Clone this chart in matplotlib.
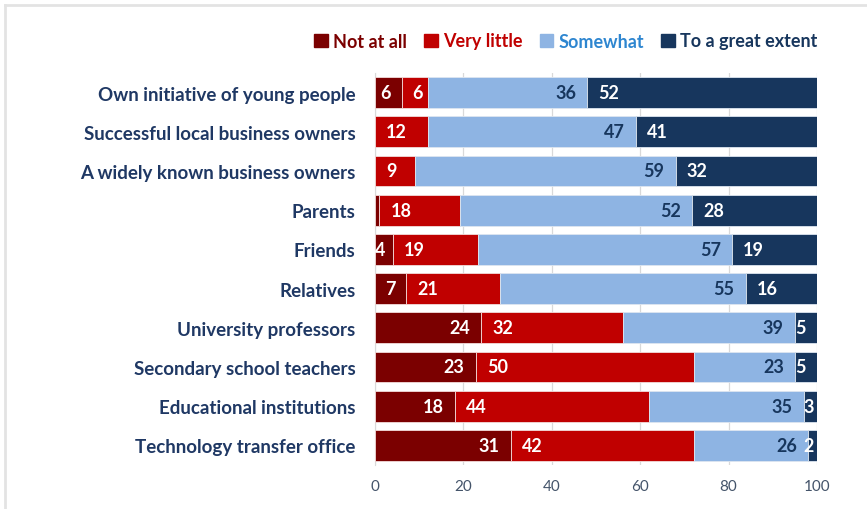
import matplotlib
matplotlib.use("Agg")
import matplotlib.pyplot as plt
from matplotlib.lines import Line2D
from matplotlib.patches import Rectangle

categories = [
    "Own initiative of young people",
    "Successful local business owners",
    "A widely known business owners",
    "Parents",
    "Friends",
    "Relatives",
    "University professors",
    "Secondary school teachers",
    "Educational institutions",
    "Technology transfer office",
]
series_names = ["Not at all", "Very little", "Somewhat", "To a great extent"]
not_at_all = [6, 0, 0, 1, 4, 7, 24, 23, 18, 31]
very_little = [6, 12, 9, 18, 19, 21, 32, 50, 44, 42]
somewhat = [36, 47, 59, 52, 57, 55, 39, 23, 35, 26]
great_extent = [52, 41, 32, 28, 19, 16, 5, 5, 3, 2]
# values shown without a data label (tiny slivers)
hidden_labels = {(0, 3)}
x_ticks = [0, 20, 40, 60, 80, 100]

bar_colors = ["#7B0000", "#C00000", "#8EB4E3", "#17365D"]
legend_text_colors = ["#7B0000", "#C00000", "#2E86D0", "#17365D"]
label_colors = ["white", "white", "#17365D", "white"]
navy = "#1F3864"
tick_color = "#44546A"

FONT = ["Lato", "DejaVu Sans"]
plt.rcParams["font.family"] = FONT

fig = plt.figure(figsize=(8.67, 5.10), dpi=100)
ax = fig.add_axes([375 / 867, 1 - 466 / 510, 442 / 867, (466 - 74) / 510])

series = [not_at_all, very_little, somewhat, great_extent]
n = len(categories)
ypos = list(range(n))
# 100% stacked: each row is scaled to its own total
totals = [sum(col) for col in zip(*series)]
left = [0.0] * n
PAD = 8  # label offset from the segment edge, in points
label_kw = dict(fontsize=13, fontweight="bold", va="center", zorder=4)

for s, vals in enumerate(series):
    widths = [v / t * 100 for v, t in zip(vals, totals)]
    ax.barh(ypos, widths, left=left, height=0.79, color=bar_colors[s],
            edgecolor="#F2DCDB" if s < 2 else "#DDE6F0", linewidth=0.6, zorder=3)
    for i, v in enumerate(vals):
        if v <= 0 or (s, i) in hidden_labels:
            continue
        start, end = left[i], left[i] + widths[i]
        c = label_colors[s]
        if s == 0 and widths[i] < 5:
            ax.annotate(str(v), (0, i), ha="left", color=c, **label_kw)
        elif s in (0, 2):
            # label at the inside end of the segment
            ax.annotate(str(v), (end, i), xytext=(-PAD, 0), textcoords="offset points",
                        ha="right", color=c, **label_kw)
        elif s == 3 and widths[i] < 8:
            ax.annotate(str(v), (min(start, 97.0), i), ha="left", color=c, **label_kw)
        else:
            # label at the inside base of the segment
            ax.annotate(str(v), (start, i), xytext=(PAD, 0), textcoords="offset points",
                        ha="left", color=c, **label_kw)
    left = [a + b for a, b in zip(left, widths)]

ax.set_xlim(0, 100)
ax.set_ylim(n - 0.5, -0.5)
ax.set_xticks(x_ticks)
ax.set_xticklabels([str(t) for t in x_ticks], color=tick_color, fontsize=11)
ax.set_yticks(ypos)
ax.set_yticklabels(categories, color=navy, fontsize=13.5, fontweight="bold")
ax.tick_params(axis="both", length=0)
ax.tick_params(axis="x", pad=10)
ax.tick_params(axis="y", pad=14)
ax.grid(axis="x", color="#D9D9D9", linewidth=0.9, zorder=0)
for side in ["top", "right", "bottom"]:
    ax.spines[side].set_visible(False)
ax.spines["left"].set_color("#D9D9D9")

# legend
handles = [Rectangle((0, 0), 1, 1, color=c) for c in bar_colors]
leg = fig.legend(handles, series_names, loc="center right", bbox_to_anchor=(834 / 867, 1 - 42 / 510),
                 ncol=4, frameon=False, handlelength=0.75, handleheight=0.75,
                 handletextpad=0.3, columnspacing=0.95,
                 prop={"family": FONT, "weight": "bold", "size": 13})
for txt, c in zip(leg.get_texts(), legend_text_colors):
    txt.set_color(c)

# light frame around the chart area
fig.add_artist(Line2D([5 / 867, 1], [1 - 6 / 510] * 2, color="#E3E3E3", linewidth=2,
                      transform=fig.transFigure))
fig.add_artist(Line2D([5 / 867] * 2, [0, 1 - 6 / 510], color="#E3E3E3", linewidth=2,
                      transform=fig.transFigure))

fig.savefig("out.png", dpi=100, facecolor="white")
